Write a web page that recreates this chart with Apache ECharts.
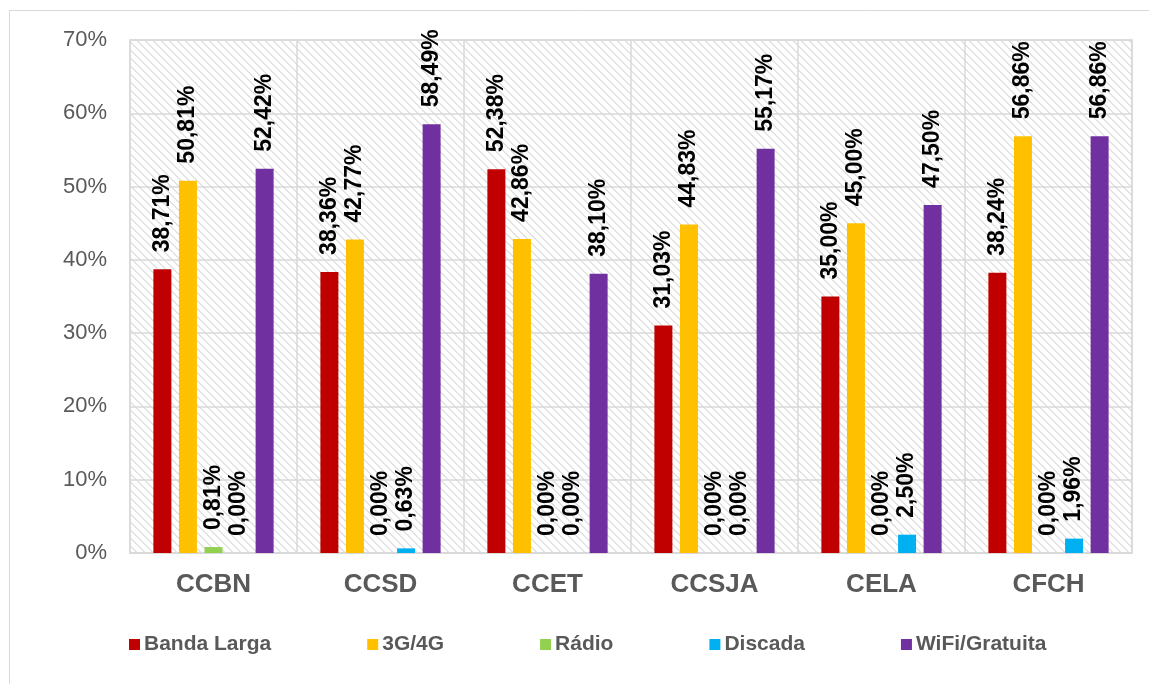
<!DOCTYPE html>
<html>
<head>
<meta charset="utf-8">
<style>
  html, body { margin: 0; padding: 0; background: #ffffff; }
  #chart { width: 1149px; height: 684px; }
</style>
<script src="https://cdn.jsdelivr.net/npm/echarts@6/dist/echarts.min.js"></script>
</head>
<body>
<div id="chart"></div>
<script>
// Campuses on the category axis
const categories = ['CCBN', 'CCSD', 'CCET', 'CCSJA', 'CELA', 'CFCH'];

// Share of respondents by type of internet access (%)
const bandaLarga = [38.71, 38.36, 52.38, 31.03, 35.00, 38.24];
const g3g4 = [50.81, 42.77, 42.86, 44.83, 45.00, 56.86];
const radio = [0.81, 0.00, 0.00, 0.00, 0.00, 0.00];
const discada = [0.00, 0.63, 0.00, 0.00, 2.50, 1.96];
const wifi = [52.42, 58.49, 38.10, 55.17, 47.50, 56.86];

const seriesNames = ['Banda Larga', '3G/4G', 'Rádio', 'Discada', 'WiFi/Gratuita'];
const seriesColors = ['#C00000', '#FFC000', '#92D050', '#00B0F0', '#7030A0'];
const seriesValues = [bandaLarga, g3g4, radio, discada, wifi];

// Value axis ticks (%)
const yMin = 0, yMax = 70, yStep = 10;

const FONT = '"Liberation Sans", Arial, sans-serif';

// Diagonal hatch tile for the plot background
function makeHatch() {
  const c = document.createElement('canvas');
  c.width = 8; c.height = 8;
  const ctx = c.getContext('2d');
  ctx.fillStyle = '#ffffff';
  ctx.fillRect(0, 0, 8, 8);
  ctx.fillStyle = '#e2e2e2';
  for (let i = 0; i < 8; i++) {
    ctx.fillRect(i, i, 1, 1);
    ctx.fillRect((i + 1) % 8, i, 1, 1);
  }
  return c;
}

const fmt = v => v.toFixed(2).replace('.', ',') + '%';

const chart = echarts.init(document.getElementById('chart'), null, { renderer: 'canvas' });

chart.setOption({
  animation: false,
  backgroundColor: '#ffffff',
  textStyle: { fontFamily: FONT },
  graphic: [
    { type: 'line', shape: { x1: 9.5, y1: 10, x2: 9.5, y2: 684 }, style: { stroke: '#d9d9d9', lineWidth: 1 }, silent: true },
    { type: 'line', shape: { x1: 9.5, y1: 10.5, x2: 1149, y2: 10.5 }, style: { stroke: '#d9d9d9', lineWidth: 1 }, silent: true }
  ],
  grid: {
    left: 130, right: 17, top: 40, bottom: 131,
    show: true,
    backgroundColor: { image: makeHatch(), repeat: 'repeat' },
    borderColor: '#d9d9d9',
    borderWidth: 1.5
  },
  legend: {
    left: 129,
    top: 634,
    padding: 0,
    itemWidth: 11,
    itemHeight: 11,
    itemGap: 96,
    icon: 'rect',
    textStyle: { fontFamily: FONT, fontSize: 21, fontWeight: 'bold', color: '#595959', padding: [0, 0, 0, -1] },
    data: seriesNames
  },
  xAxis: {
    type: 'category',
    data: categories,
    axisLine: { show: true, lineStyle: { color: '#d9d9d9', width: 1.5 } },
    axisTick: { show: false },
    splitLine: { show: true, lineStyle: { color: '#d9d9d9', width: 1.5 } },
    axisLabel: { fontFamily: FONT, fontSize: 26, fontWeight: 'bold', color: '#595959', margin: 19 }
  },
  yAxis: {
    type: 'value',
    min: yMin, max: yMax, interval: yStep,
    axisLine: { show: false },
    axisTick: { show: false },
    splitLine: { show: true, lineStyle: { color: '#d9d9d9', width: 1.5 } },
    axisLabel: { fontFamily: FONT, fontSize: 22, color: '#595959', margin: 23, formatter: '{value}%' }
  },
  series: seriesNames.map((name, i) => ({
    name: name,
    type: 'bar',
    data: seriesValues[i],
    barWidth: 18,
    barGap: '42%',
    itemStyle: { color: seriesColors[i] },
    label: {
      show: true,
      position: 'top',
      rotate: 90,
      align: 'left',
      verticalAlign: 'middle',
      distance: 17,
      fontFamily: FONT,
      fontSize: 23,
      fontWeight: 'bold',
      color: '#000000',
      formatter: p => fmt(p.value)
    }
  }))
});
</script>
</body>
</html>
